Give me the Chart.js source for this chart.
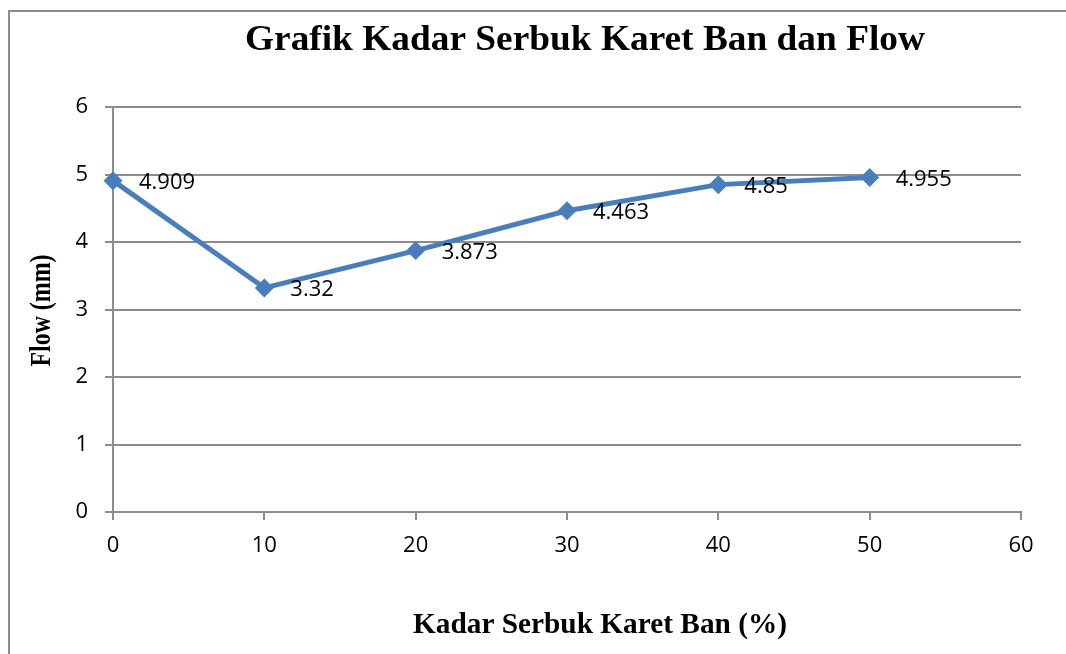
<!DOCTYPE html>
<html>
<head>
<meta charset="utf-8">
<script src="https://cdn.jsdelivr.net/npm/chart.js@4/dist/chart.umd.min.js"></script>
<style>
  html, body { margin: 0; padding: 0; background: #fff; }
  #wrap { position: relative; width: 1066px; height: 654px; }
  canvas { display: block; }
</style>
</head>
<body>
<div id="wrap"><canvas id="c" width="1066" height="654"></canvas></div>
<script>
// ---- data ----
const kadar = [0, 10, 20, 30, 40, 50];          // Kadar Serbuk Karet Ban (%)
const flow  = [4.909, 3.32, 3.873, 4.463, 4.85, 4.955]; // Flow (mm)
const flowLabels = ['4.909', '3.32', '3.873', '4.463', '4.85', '4.955'];
const chartTitle = 'Grafik Kadar Serbuk Karet Ban dan Flow';
const xTitle = 'Kadar Serbuk Karet Ban (%)';
const yTitle = 'Flow (mm)';

const GRID = '#8c8c8c';
const LINE = '#4a7ebb';
const SANS = '"Open Sans", Lato, sans-serif';
const SERIF = '"Liberation Serif", "Times New Roman", serif';
const TICK_FONT = { family: SANS, size: 22 };

// draw centered text, horizontally scaled to a target width
function fitText(ctx, text, cx, y, font, targetW) {
  ctx.save();
  ctx.font = font;
  const w = ctx.measureText(text).width;
  const s = targetW / w;
  ctx.translate(cx, y);
  ctx.scale(s, 1);
  ctx.textAlign = 'center';
  ctx.textBaseline = 'alphabetic';
  ctx.fillText(text, 0, 0);
  ctx.restore();
}

const decor = {
  id: 'decor',
  beforeDraw(chart) {
    const ctx = chart.ctx;
    ctx.save();
    ctx.strokeStyle = '#8c8c8c';
    ctx.lineWidth = 2;
    ctx.beginPath();
    ctx.moveTo(9, 660);
    ctx.lineTo(9, 11);
    ctx.lineTo(1070, 11);
    ctx.stroke();
    ctx.restore();
  },
  afterDraw(chart) {
    const ctx = chart.ctx;
    ctx.save();
    ctx.fillStyle = '#000';
    fitText(ctx, chartTitle, 585, 50, 'bold 36px ' + SERIF, 680);
    fitText(ctx, xTitle, 600, 633, 'bold 30px ' + SERIF, 374);
    ctx.translate(50, 310.5);
    ctx.rotate(-Math.PI / 2);
    fitText(ctx, yTitle, 0, 0, 'bold 30px ' + SERIF, 112);
    ctx.restore();

    // data labels
    const meta = chart.getDatasetMeta(0);
    ctx.save();
    ctx.font = '22px ' + SANS;
    ctx.fillStyle = '#000';
    ctx.textAlign = 'left';
    ctx.textBaseline = 'middle';
    meta.data.forEach((pt, i) => {
      ctx.fillText(flowLabels[i], pt.x + 26, pt.y + 2);
    });
    ctx.restore();
  }
};

new Chart(document.getElementById('c'), {
  type: 'line',
  data: {
    datasets: [{
      data: kadar.map((x, i) => ({ x: x, y: flow[i] })),
      borderColor: LINE,
      backgroundColor: LINE,
      borderWidth: 5,
      pointStyle: 'rectRot',
      pointRadius: 9.5,
      pointHoverRadius: 9.5,
      pointBorderWidth: 0,
      tension: 0,
      clip: false
    }]
  },
  options: {
    responsive: false,
    animation: false,
    events: [],
    layout: { padding: { left: 0, top: 107, right: 45, bottom: 0 } },
    plugins: { legend: { display: false }, title: { display: false }, tooltip: { enabled: false } },
    scales: {
      x: {
        type: 'linear',
        min: 0, max: 60,
        ticks: { stepSize: 10, color: '#000', font: TICK_FONT, padding: 13 },
        grid: { drawOnChartArea: false, drawTicks: true, tickLength: 8, color: GRID, lineWidth: 2 },
        border: { color: GRID, width: 2 },
        afterFit(s) { s.height = 142; }
      },
      y: {
        min: 0, max: 6,
        ticks: { stepSize: 1, color: '#000', font: TICK_FONT, padding: 17 },
        grid: { drawTicks: true, tickLength: 8, color: GRID, lineWidth: 2 },
        border: { color: GRID, width: 2 },
        afterFit(s) { s.width = 113; }
      }
    }
  },
  plugins: [decor]
});
</script>
</body>
</html>
